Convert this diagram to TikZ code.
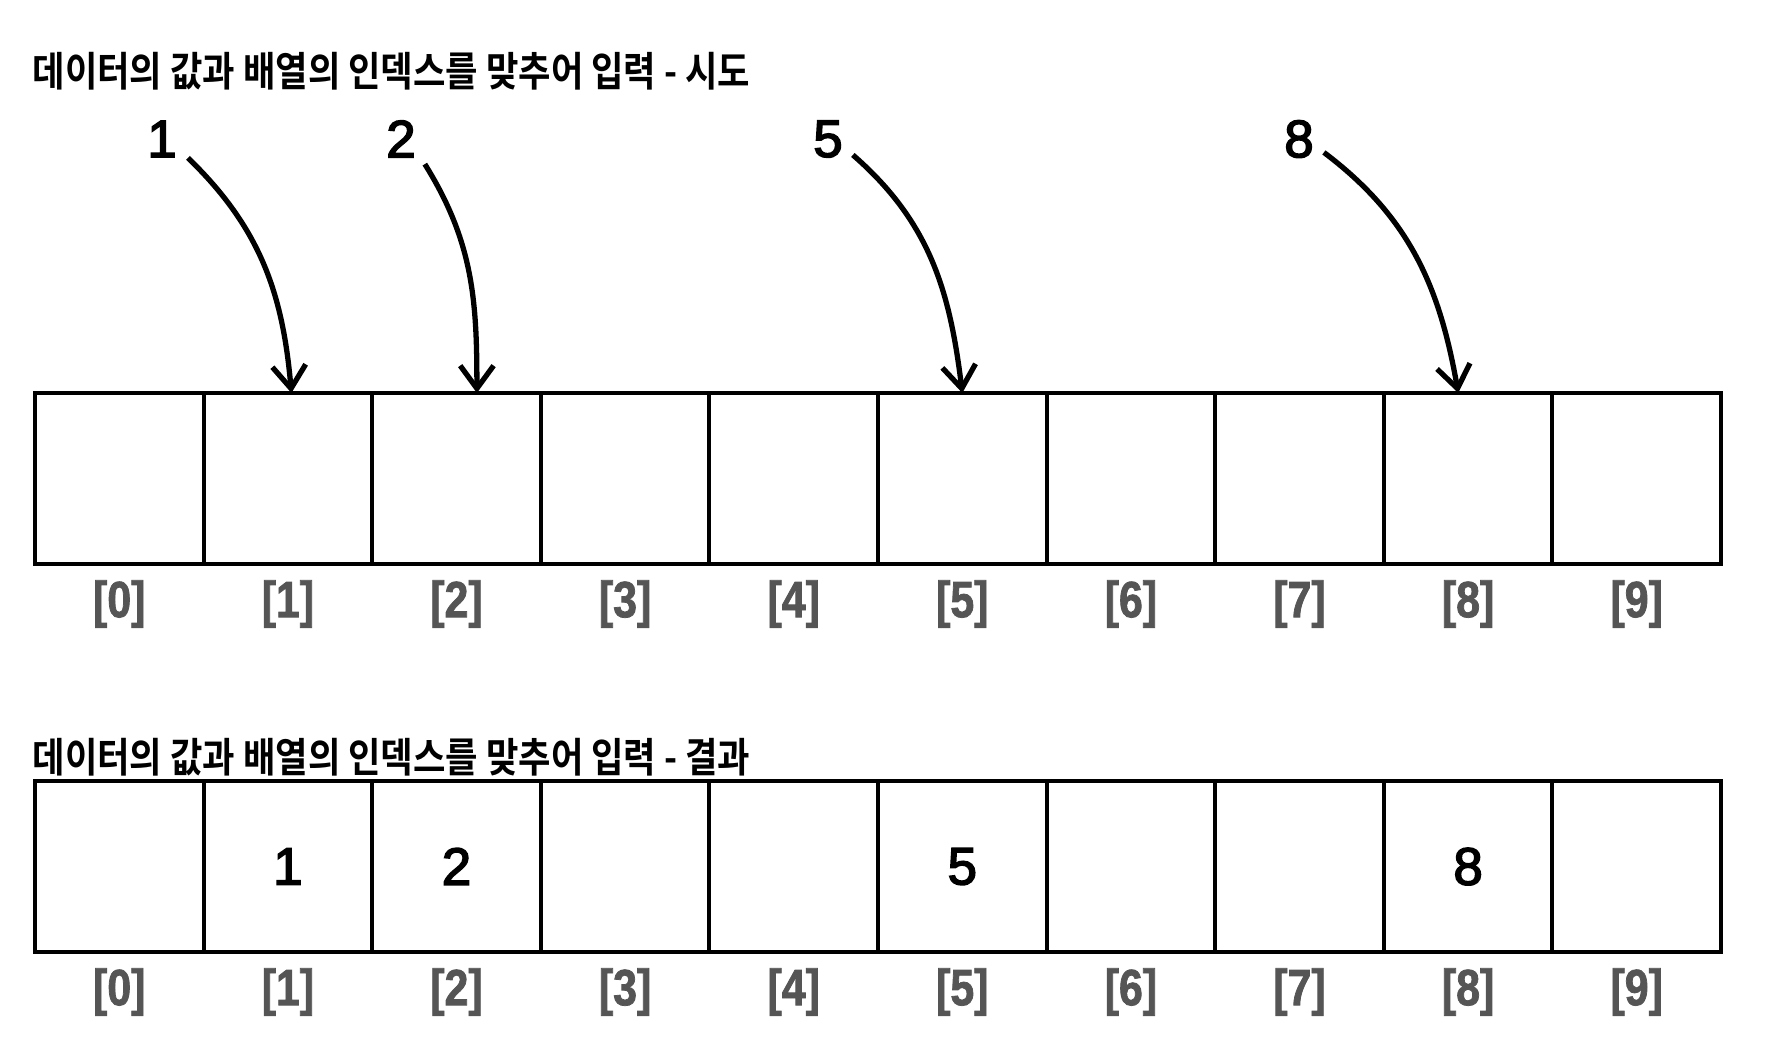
\documentclass[tikz,border=0pt]{standalone}
\usepackage{fontspec}
\setmainfont{Liberation Sans}
\newfontfamily\krfont[FakeStretch=0.864]{Noto Sans CJK KR Bold}
\newfontfamily\idxfont[FakeStretch=0.84,FakeBold=1.5]{Liberation Sans Bold}
\newfontfamily\numfont[FakeBold=3]{Liberation Sans}
\usepackage{tikz}
\usetikzlibrary{arrows.meta,positioning}
\definecolor{IdxGray}{HTML}{555555}

\begin{document}
\begin{tikzpicture}[
  x=0.01cm, y=-0.01cm,
  cell/.style={draw, line width=1.1pt, minimum width=1.686cm, minimum height=1.71cm,
               inner sep=0pt, outer sep=0pt, font=\numfont\fontsize{15}{18}\selectfont},
  idx/.style={inner sep=0pt, font=\idxfont\fontsize{14.5}{17}\selectfont, text=IdxGray},
  ttl/.style={anchor=west, inner sep=0pt, font=\krfont\fontsize{11.6}{14}\selectfont},
  val/.style={inner sep=0pt, font=\numfont\fontsize{15}{18}\selectfont},
  arr/.style={-{Straight Barb[length=6.5pt, width=9.5pt]}, line width=1.5pt}
]
  \useasboundingbox (0,0) rectangle (1776,1044);

  % try
  \node[ttl] (title1) at (32,71) {데이터의 값과 배열의 인덱스를 맞추어 입력 - 시도};
  \foreach \i in {0,...,9} {
    \node[cell] (t\i) at ({35+168.6*(\i+0.5)},478.5) {};
    \node[idx] (tl\i) at ({35+168.6*(\i+0.5)},604) {[\i]};
  }

  \node[val] (n1) at (162,139) {1};
  \node[val] (n2) at (401,139) {2};
  \node[val] (n5) at (828,139) {5};
  \node[val] (n8) at (1299,139) {8};

  \draw[arr] ([xshift=3pt]n1.south east) to[out=-44, in=95] ([xshift=1pt]t1.north);
  \draw[arr] ([xshift=2.4pt, yshift=-1.7pt]n2.south east) to[out=-58, in=90] ([xshift=5.8pt]t2.north);
  \draw[arr] ([xshift=2.7pt, yshift=0.9pt]n5.south east) to[out=-41, in=97] (t5.north);
  \draw[arr] ([xshift=2.7pt, yshift=1.7pt]n8.south east) to[out=-37, in=100] ([xshift=-2.8pt]t8.north);

  % result
  \node[ttl] (title2) at (32,757) {데이터의 값과 배열의 인덱스를 맞추어 입력 - 결과};
  \foreach \i/\v in {0/,1/1,2/2,3/,4/,5/5,6/,7/,8/8,9/} {
    \node[cell] (b\i) at ({35+168.6*(\i+0.5)},866.5) {\v};
    \node[idx] (bl\i) at ({35+168.6*(\i+0.5)},992) {[\i]};
  }
\end{tikzpicture}
\end{document}
